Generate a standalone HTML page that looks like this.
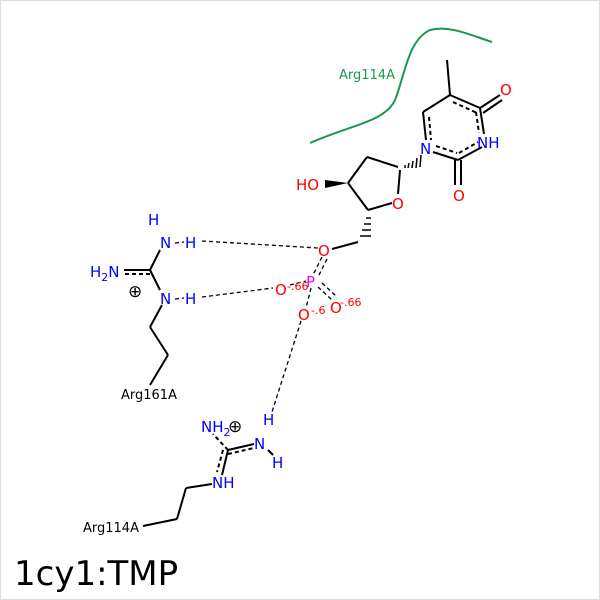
<!DOCTYPE html><html><head><style>body{margin:0;background:#fff}svg{display:block}</style></head><body>
<svg width="600" height="600" viewBox="0 0 600 600" xmlns="http://www.w3.org/2000/svg" font-family="DejaVu Sans, Liberation Sans, sans-serif">
<rect x="0.5" y="0.5" width="599" height="599" fill="#fff" stroke="#ddd"/>
<path d="M310,143 C350,125 385,122 395,100 C405,75 408,40 430,30 C450,25 470,35 492,42" fill="none" stroke="#1a9850" stroke-width="2"/>
<text x="339" y="79" font-size="13" fill="#1a9850">Arg114A</text>
<g stroke="#000" stroke-width="2" fill="none">
<line x1="447" y1="60" x2="450" y2="95"/>
<line x1="450" y1="95" x2="423" y2="112"/>
<line x1="450" y1="95" x2="480" y2="108"/>
<line x1="453" y1="102" x2="477" y2="113" stroke-dasharray="4,3"/>
<line x1="480" y1="108" x2="500" y2="95"/><line x1="483" y1="113" x2="502" y2="100"/>
<line x1="480" y1="108" x2="484" y2="134"/><line x1="476" y1="112" x2="479" y2="133" stroke-dasharray="4,3"/>
<line x1="423" y1="112" x2="426" y2="140"/><line x1="429" y1="117" x2="431" y2="140" stroke-dasharray="4,3"/>
<line x1="433" y1="152" x2="458" y2="160"/><line x1="458" y1="160" x2="482" y2="147"/>
<line x1="436" y1="146" x2="457" y2="153" stroke-dasharray="4,3"/><line x1="459" y1="153" x2="478" y2="142" stroke-dasharray="4,3"/>
<line x1="455" y1="160" x2="455" y2="185"/><line x1="461" y1="160" x2="461" y2="185"/>
<line x1="367" y1="157" x2="348" y2="183"/><line x1="367" y1="157" x2="398" y2="167"/>
<line x1="348" y1="183" x2="368" y2="210"/><line x1="368" y1="210" x2="392" y2="203"/>
<line x1="400" y1="170" x2="398" y2="194"/>
<line x1="358" y1="242" x2="332" y2="249"/>
<line x1="150" y1="270" x2="160" y2="290"/><line x1="150" y1="270" x2="160" y2="250"/>
<line x1="150" y1="270" x2="124" y2="270"/><line x1="150" y1="274" x2="124" y2="274" stroke-dasharray="4,3"/>
<line x1="162" y1="305" x2="150" y2="327"/><line x1="150" y1="327" x2="168" y2="355"/><line x1="168" y1="355" x2="150" y2="385"/>
<line x1="228" y1="450" x2="254" y2="444"/><line x1="228" y1="454" x2="254" y2="448" stroke-dasharray="4,3"/>
<line x1="228" y1="450" x2="222" y2="475"/><line x1="223" y1="450" x2="217" y2="472" stroke-dasharray="4,3"/>
<line x1="228" y1="450" x2="213" y2="434" stroke-dasharray="4,3"/>
<line x1="212" y1="484" x2="186" y2="488"/><line x1="186" y1="488" x2="177" y2="519"/><line x1="177" y1="519" x2="143" y2="526"/>
<line x1="268" y1="450" x2="273" y2="455"/>
</g>
<g stroke="#000" stroke-width="1.5">
<line x1="405" y1="165" x2="405" y2="168"/><line x1="409" y1="163" x2="408" y2="168"/><line x1="413" y1="161" x2="412" y2="168"/><line x1="417" y1="158" x2="416" y2="168"/><line x1="421" y1="155" x2="420" y2="167"/>
<line x1="366" y1="218" x2="371" y2="218"/><line x1="364" y1="224" x2="371" y2="224"/><line x1="362" y1="230" x2="371" y2="230"/><line x1="360" y1="236" x2="371" y2="236"/>
</g>
<polygon points="348,183 325,180 325,188" fill="#000"/>
<g stroke="#000" stroke-width="1.3" stroke-dasharray="4,3" fill="none">
<line x1="202" y1="241" x2="318" y2="248"/>
<line x1="202" y1="297" x2="273" y2="288"/>
<line x1="301" y1="321" x2="272" y2="412"/>
<line x1="290" y1="285" x2="306" y2="281"/>
<line x1="322" y1="257" x2="313" y2="275"/><line x1="327" y1="259" x2="318" y2="277"/>
<line x1="318" y1="287" x2="332" y2="300"/><line x1="322" y1="283" x2="336" y2="296"/>
<line x1="311" y1="288" x2="306" y2="308"/>
<line x1="175" y1="243" x2="184" y2="242"/><line x1="175" y1="299" x2="184" y2="298"/>
</g>
<g font-size="15" fill="#0000ff">
<text x="420" y="154">N</text><text x="477" y="148">NH</text>
<text x="160" y="248">N</text><text x="185" y="248">H</text><text x="148" y="225">H</text>
<text x="90" y="277">H<tspan font-size="11" dy="4">2</tspan><tspan dy="-4">N</tspan></text>
<text x="160" y="304">N</text><text x="185" y="304">H</text>
<text x="201" y="432">NH<tspan font-size="11" dy="4">2</tspan></text>
<text x="263" y="425">H</text><text x="254" y="449">N</text><text x="272" y="468">H</text>
<text x="212" y="488">NH</text>
</g>
<g font-size="15" fill="#ff0000">
<text x="500" y="95">O</text><text x="453" y="201">O</text><text x="392" y="209">O</text>
<text x="296" y="190">HO</text><text x="318" y="256">O</text>
<text x="275" y="295">O</text><text x="330" y="313">O</text><text x="298" y="320">O</text>
</g>
<text x="306" y="287" font-size="15" fill="#ff00ff">P</text>
<g font-size="11" fill="#ff0000"><text x="287" y="290">-.66</text><text x="340" y="306">-.66</text><text x="311" y="314">-.6</text></g>
<g font-size="17" fill="#000"><text x="128" y="297">⊕</text><text x="228" y="432">⊕</text></g>
<text x="121" y="399" font-size="13" fill="#000">Arg161A</text>
<text x="83" y="532" font-size="13" fill="#000">Arg114A</text>
<text x="14" y="585" font-size="34" fill="#000">1cy1:TMP</text>
</svg></body></html>
